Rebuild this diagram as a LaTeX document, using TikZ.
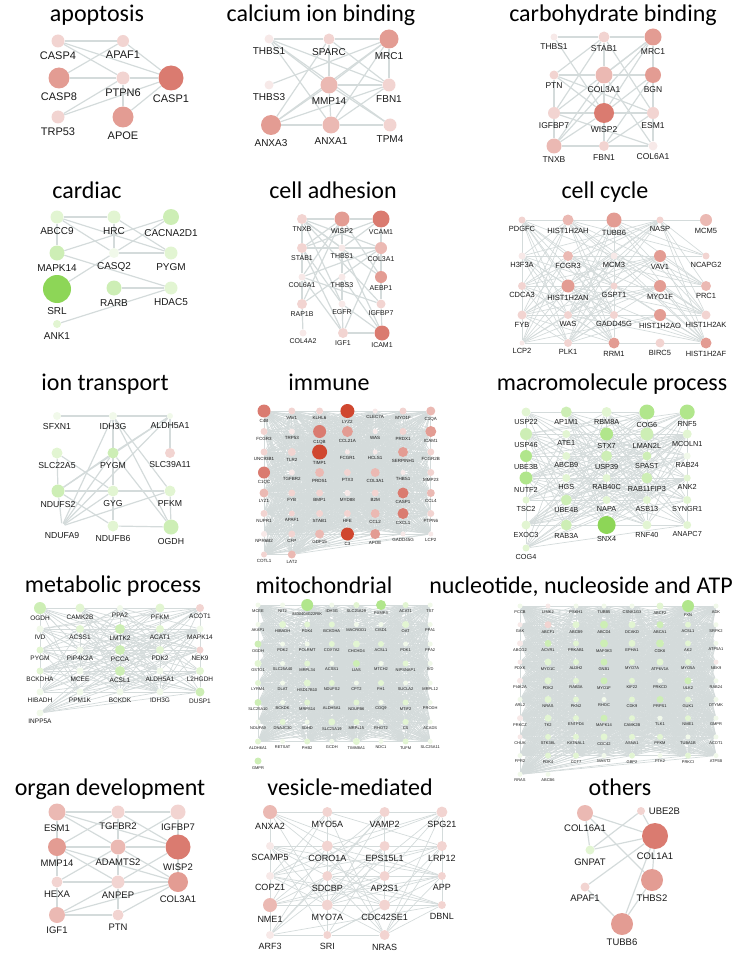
\documentclass[tikz,border=0pt]{standalone}
\usepackage{fontspec}
\setsansfont{Liberation Sans}
\newfontfamily\titlefont{Carlito}
\usetikzlibrary{positioning}

\definecolor{r0}{HTML}{F7E9E8}
\definecolor{r1}{HTML}{F2D4D1}
\definecolor{r2}{HTML}{EBB9B3}
\definecolor{r3}{HTML}{E39C93}
\definecolor{r4}{HTML}{DA7B70}
\definecolor{r5}{HTML}{D0472F}
\definecolor{g0}{HTML}{F1F9EA}
\definecolor{g1}{HTML}{E2F5D2}
\definecolor{g2}{HTML}{CDEEB5}
\definecolor{g3}{HTML}{B1E68C}
\definecolor{g4}{HTML}{8DD657}
\definecolor{edgegray}{HTML}{D4DBDB}

\pgfdeclarelayer{bg}
\pgfsetlayers{bg,main}

\tikzset{
  gn/.style={circle, inner sep=0pt, minimum size=#1},
  edge/.style={draw=edgegray, line width=1.2pt},
  meshedge/.style={draw=edgegray, line width=0.7pt},
  lbl/.style={inner sep=1pt, text=black!90},
  ttl/.style={anchor=base, inner sep=0pt, font=\titlefont\fontsize{24}{24}\selectfont},
}

% one gene: name, x, y, size, colour, text
\newcommand\gene[6]{\node[gn=#4, fill=#5, label={[lbl]below:#6}] (#1) at (#2,#3) {};}
% dense web: prefix, last index, modulus, threshold
\newcommand\genemesh[4]{%
  \foreach \i in {0,...,#2}{\foreach \j in {0,...,#2}{%
    \ifnum\i<\j
      \pgfmathtruncatemacro\k{mod(\i*7+\j*11+\i*\j,#3)}%
      \ifnum\k<#4 \draw[meshedge] (#1\i) -- (#1\j);\fi
    \fi}}}

\begin{document}
\begin{tikzpicture}[x=1pt, y=-1pt]
\useasboundingbox (0,0) rectangle (750,960);

% apoptosis
\begin{scope}[lbl/.append style={font=\sffamily\fontsize{11}{11}\selectfont, label distance=3pt}]
\node[ttl] (tApo) at (97,22) {apoptosis};
\gene{aC4}{58}{41}{13}{r1}{CASP4}
\gene{aAP}{123}{41}{12}{r1}{APAF1}
\gene{aC8}{59}{78}{21}{r3}{CASP8}
\gene{aPT}{123}{78}{13}{r1}{PTPN6}
\gene{aC1}{171}{78}{25}{r4}{CASP1}
\gene{aTR}{58}{117}{13}{r1}{TRP53}
\gene{aAE}{123}{117}{21}{r3}{APOE}
\begin{pgfonlayer}{bg}
\foreach \a/\b in {aC4/aAP, aC4/aPT, aC4/aC1, aAP/aC8, aAP/aC1, aC8/aPT,
  aPT/aC1, aTR/aPT, aTR/aC1, aAE/aPT, aAE/aC1}
  \draw[edge] (\a) -- (\b);
\end{pgfonlayer}
\end{scope}

% calcium ion binding
\begin{scope}[lbl/.append style={font=\sffamily\fontsize{10}{10}\selectfont, label distance=3pt}]
\node[ttl] (tCal) at (321,22) {calcium ion binding};
\gene{cT1}{269}{39}{9}{r0}{THBS1}
\gene{cSP}{329}{39}{11}{r1}{SPARC}
\gene{cMR}{389}{39}{19}{r3}{MRC1}
\gene{cT3}{269}{85}{9}{r0}{THBS3}
\gene{cMM}{329}{85}{17}{r2}{MMP14}
\gene{cFB}{389}{85}{13}{r1}{FBN1}
\gene{cA3}{271}{125}{20}{r3}{ANXA3}
\gene{cA1}{331}{125}{17}{r2}{ANXA1}
\gene{cTP}{390}{125}{13}{r1}{TPM4}
\begin{pgfonlayer}{bg}
\foreach \a/\b in {cT1/cSP, cSP/cMR, cT1/cMM, cT1/cFB, cT1/cTP, cT1/cA1,
  cSP/cFB, cSP/cMM, cSP/cA3, cMR/cFB, cMR/cMM, cMR/cA3, cMR/cA1, cT3/cMR,
  cMM/cFB, cMM/cTP, cMM/cA3, cMM/cA1, cA3/cA1, cA1/cTP, cA3/cFB, cA1/cFB}
  \draw[edge] (\a) -- (\b);
\end{pgfonlayer}
\end{scope}

% carbohydrate binding
\begin{scope}[lbl/.append style={font=\sffamily\fontsize{8.5}{8.5}\selectfont, label distance=2pt}]
\node[ttl] (tCar) at (613,22) {carbohydrate binding};
\gene{hT1}{554}{37}{7}{r0}{THBS1}
\gene{hST}{604}{37}{11}{r1}{STAB1}
\gene{hMR}{653}{37}{17}{r3}{MRC1}
\gene{hPT}{554}{75}{9}{r1}{PTN}
\gene{hC3}{604}{75}{17}{r2}{COL3A1}
\gene{hBG}{653}{75}{16}{r3}{BGN}
\gene{hIG}{554}{113}{12}{r1}{IGFBP7}
\gene{hWI}{604}{113}{20}{r4}{WISP2}
\gene{hES}{653}{113}{12}{r1}{ESM1}
\gene{hTN}{554}{146}{15}{r2}{TNXB}
\gene{hFB}{604}{146}{10}{r1}{FBN1}
\gene{hC6}{653}{146}{9}{r0}{COL6A1}
\begin{pgfonlayer}{bg}
\foreach \a/\b in {hT1/hST, hST/hMR, hT1/hWI, hST/hPT, hST/hIG, hST/hES,
  hST/hC3, hMR/hC3, hMR/hBG, hMR/hWI, hMR/hIG, hMR/hTN, hPT/hC3, hPT/hIG,
  hPT/hWI, hPT/hES, hC3/hBG, hC3/hWI, hC3/hTN, hC3/hC6, hBG/hWI, hBG/hFB,
  hBG/hES, hIG/hWI, hIG/hTN, hWI/hES, hWI/hTN, hWI/hFB, hES/hFB, hES/hC6,
  hTN/hFB, hFB/hC6, hIG/hC6}
  \draw[edge] (\a) -- (\b);
\end{pgfonlayer}
\end{scope}

% cardiac
\begin{scope}[lbl/.append style={font=\sffamily\fontsize{10}{10}\selectfont, label distance=3pt}]
\node[ttl] (tCrd) at (87,198) {cardiac};
\gene{dAB}{57}{217}{13}{g1}{ABCC9}
\gene{dHR}{114}{217}{13}{g1}{HRC}
\gene{dCA}{171}{217}{16}{g2}{CACNA2D1}
\gene{dMA}{57}{253}{15}{g2}{MAPK14}
\gene{dCQ}{114}{253}{10}{g0}{CASQ2}
\gene{dPY}{171}{253}{13}{g1}{PYGM}
\gene{dSR}{57}{289}{28}{g4}{SRL}
\gene{dRA}{114}{288}{15}{g2}{RARB}
\gene{dHD}{171}{288}{13}{g1}{HDAC5}
\gene{dAN}{57}{324}{8}{g1}{ANK1}
\begin{pgfonlayer}{bg}
\foreach \a/\b in {dAB/dHR, dAB/dMA, dAB/dCQ, dAB/dPY, dHR/dCQ, dHR/dPY,
  dCA/dMA, dCA/dCQ, dCQ/dPY, dMA/dHD, dSR/dCQ, dRA/dHD, dHD/dAN}
  \draw[edge] (\a) -- (\b);
\end{pgfonlayer}
\end{scope}

% cell adhesion
\begin{scope}[lbl/.append style={font=\sffamily\fontsize{7}{7}\selectfont, label distance=1pt}]
\node[ttl] (tAdh) at (333,198) {cell adhesion};
\gene{eTN}{302}{219}{10}{r1}{TNXB}
\gene{eWI}{342}{219}{15}{r3}{WISP2}
\gene{eVC}{381}{219}{17}{r4}{VCAM1}
\gene{eST}{302}{248}{10}{r1}{STAB1}
\gene{eT1}{342}{248}{7}{r0}{THBS1}
\gene{eC3}{381}{248}{12}{r2}{COL3A1}
\gene{eC6}{302}{277}{7}{r0}{COL6A1}
\gene{eT3}{342}{277}{7}{r0}{THBS3}
\gene{eAE}{381}{277}{12}{r3}{AEBP1}
\gene{eRA}{302}{304}{10}{r1}{RAP1B}
\gene{eEG}{342}{304}{7}{r0}{EGFR}
\gene{eIG}{381}{304}{9}{r1}{IGFBP7}
\gene{eC4}{303}{333}{7}{r0}{COL4A2}
\gene{eI1}{343}{333}{10}{r1}{IGF1}
\gene{eIC}{382}{333}{15}{r4}{ICAM1}
\begin{pgfonlayer}{bg}
\foreach \a/\b in {eTN/eWI, eWI/eVC, eTN/eST, eST/eC6, eC6/eRA, eRA/eC4,
  eT1/eT3, eT3/eEG, eEG/eI1, eVC/eC3, eC3/eAE, eAE/eIG, eIG/eIC, eI1/eIC,
  eTN/eT1, eTN/eC3, eTN/eAE, eTN/eIG, eTN/eEG, eWI/eST, eWI/eC6, eWI/eRA,
  eWI/eAE, eVC/eT1, eVC/eST, eVC/eIG, eST/eC3, eST/eEG, eC6/eC3, eC6/eIG,
  eT1/eIC, eT3/eIC, eRA/eC3, eEG/eIC, eI1/eC6, eI1/eC3, eI1/eST, eWI/eT1}
  \draw[edge] (\a) -- (\b);
\end{pgfonlayer}
\end{scope}

% cell cycle
\begin{scope}[lbl/.append style={font=\sffamily\fontsize{7.5}{7.5}\selectfont, label distance=1.3pt}]
\node[ttl] (tCyc) at (605,198) {cell cycle};
\foreach \gl/\gs/\gc [count=\n from 0] in {PDGFC/7/r1, HIST1H2AH/11/r2,
  TUBB6/15/r3, NASP/7/r1, MCM5/12/r2, H3F3A/7/r0, FCGR3/10/r2, MCM3/7/r0,
  VAV1/12/r3, NCAPG2/7/r1, CDCA3/8/r1, HIST1H2AN/13/r3, GSPT1/7/r1,
  MYO1F/12/r3, PRC1/10/r2, FYB/9/r1, WAS/8/r1, GADD45G/8/r1, HIST1H2AO/12/r3,
  HIST1H2AK/9/r1, LCP2/5/r0, PLK1/8/r1, RRM1/11/r3, BIRC5/9/r1,
  HIST1H2AF/11/r3}{
  \pgfmathtruncatemacro\rr{\n/5}
  \pgfmathsetmacro\xx{522+46*mod(\n,5)}
  \pgfmathsetmacro\yy{{220,256,286,315,343}[\rr]}
  \node[gn=\gs, fill=\gc, label={[lbl]below:\gl}] (cy\n) at (\xx,\yy) {};
}
\begin{pgfonlayer}{bg}
\genemesh{cy}{24}{5}{3}
\end{pgfonlayer}
\end{scope}

% ion transport
\begin{scope}[lbl/.append style={font=\sffamily\fontsize{8.7}{8.7}\selectfont, label distance=2.5pt}]
\node[ttl] (tIon) at (105,390) {ion transport};
\gene{iSF}{57}{416}{8}{g0}{SFXN1}
\gene{iID}{113}{416}{8}{g0}{IDH3G}
\gene{iAL}{170}{416}{6}{g0}{ALDH5A1}
\gene{iSL}{57}{453}{11}{g1}{SLC22A5}
\gene{iPY}{113}{453}{11}{g2}{PYGM}
\gene{iS3}{170}{453}{10}{r1}{SLC39A11}
\gene{iNS}{58}{491}{13}{g2}{NDUFS2}
\gene{iGY}{113}{491}{11}{g1}{GYG}
\gene{iPF}{170}{491}{11}{g1}{PFKM}
\gene{iNA}{62}{526}{5}{white}{NDUFA9}
\gene{iNB}{113}{526}{11}{g1}{NDUFB6}
\gene{iOG}{171}{527}{15}{g2}{OGDH}
\begin{pgfonlayer}{bg}
\foreach \a/\b in {iSF/iID, iID/iAL, iID/iGY, iID/iPF, iID/iOG, iID/iNA,
  iAL/iS3, iAL/iPY, iAL/iNS, iAL/iNA, iSL/iNS, iSL/iGY, iPY/iGY, iPY/iNS,
  iPY/iNA, iPY/iOG, iNS/iGY, iNS/iNB, iNS/iPF, iGY/iPF, iGY/iNB, iGY/iNA,
  iPF/iOG, iNB/iOG, iNA/iPF, iNS/iNA}
  \draw[edge] (\a) -- (\b);
\end{pgfonlayer}
\end{scope}

% immune
\begin{scope}[lbl/.append style={font=\sffamily\fontsize{4.5}{4.5}\selectfont, label distance=0.8pt}]
\node[ttl] (tImm) at (329,390) {immune};
\foreach \gl/\gs/\gc [count=\n from 0] in {C4B/13/r4, VAV1/7/r1, KLHL6/7/r1,
  LYZ2/14/r5, CLEC7A/5/r0, MYO1F/7/r1, C1QA/9/r2,
  FCGR3/7/r1, TRP53/6/r0, C1QB/13/r4, CCL21A/11/r3, WAS/5/r0, PRDX1/7/r1, ICAM1/11/r3,
  UNC93B1/7/r1, TLR2/8/r1, TIMP1/15/r5, FCGR1/5/r0, HCLS1/5/r0, SERPINH1/10/r3, FCGR2B/7/r1,
  C1QC/12/r4, TGFBR2/6/r0, PRDS1/9/r2, PTX3/7/r1, COL3A1/9/r2, THBS1/5/r0, MMP23/7/r1,
  LYZ1/9/r2, FYB/7/r1, BMP1/7/r1, MYD88/6/r0, B2M/7/r1, CASP1/11/r4, CCL4/8/r2,
  NUPR1/7/r1, APAF1/6/r1, STAB1/7/r1, HFE/7/r1, CCL2/9/r2, CXCL1/11/r4, PTPN6/7/r1,
  NPR6B2/6/r0, CFP/7/r1, GDF15/9/r2, C3/13/r5, APOE/10/r3, GADD45G/5/r0, LCP2/5/r0,
  COTL1/6/r1, LAT2/8/r2}{
  \pgfmathtruncatemacro\rr{\n/7}
  \pgfmathsetmacro\xx{264+27.8*mod(\n,7)}
  \pgfmathsetmacro\yy{411+20.5*\rr}
  \node[gn=\gs, fill=\gc, label={[lbl]below:\gl}] (im\n) at (\xx,\yy) {};
}
\begin{pgfonlayer}{bg}
\genemesh{im}{50}{5}{4}
\end{pgfonlayer}
\end{scope}

% macromolecule process
\begin{scope}[lbl/.append style={font=\sffamily\fontsize{7.3}{7.3}\selectfont, label distance=1pt}]
\node[ttl] (tMac) at (612,390) {macromolecule process};
\foreach \gl/\gs/\gc [count=\n from 0] in {USP22/9/g1, AP1M1/11/g2,
  RBM8A/10/g1, COG6/15/g3, RNF5/15/g3, USP46/12/g2, ATE1/8/g1, STX7/13/g3,
  LMAN2L/13/g2, MCOLN1/9/g1, UBE3B/12/g3, ABCB9/8/g1, USP39/11/g2,
  SPAST/9/g2, RAB24/7/g0, NUTF2/13/g3, HGS/8/g1, RAB40C/8/g1,
  RAB11FIP3/11/g2, ANK2/7/g1, TSC2/7/g1, UBE4B/11/g2, NAPA/8/g1, ASB13/8/g1,
  SYNGR1/8/g1, EXOC3/9/g1, RAB3A/11/g2, SNX4/18/g4, RNF40/9/g1,
  ANAPC7/8/g1, COG4/7/g1}{
  \pgfmathtruncatemacro\rr{\n/5}
  \pgfmathsetmacro\xx{526+40.3*mod(\n,5)}
  \pgfmathsetmacro\yy{{412,434,456,478,500,525,548}[\rr]}
  \node[gn=\gs, fill=\gc, label={[lbl]below:\gl}] (mc\n) at (\xx,\yy) {};
}
\begin{pgfonlayer}{bg}
\genemesh{mc}{30}{10}{4}
\end{pgfonlayer}
\end{scope}

% metabolic process
\begin{scope}[lbl/.append style={font=\sffamily\fontsize{6.5}{6.5}\selectfont, label distance=1pt}]
\node[ttl] (tMet) at (113,592) {metabolic process};
\foreach \gl/\gs/\gc [count=\n from 0] in {OGDH/12/g2, CAMK2B/9/g1,
  PPA2/6/g0, PFKM/9/g1, ACOT1/8/r1, IVD/7/g0, ACSS1/8/g1, LMTK2/10/g2,
  ACAT1/8/g1, MAPK14/7/g0, PYGM/7/g1, PIP4K2A/7/g0, PCCA/10/g2, PDK2/8/g1,
  NEK9/7/r1, BCKDHA/7/g1, MCEE/7/g0, ACSL1/10/g2, ALDH5A1/7/g0,
  L2HGDH/8/g1, HIBADH/7/g0, PPM1K/7/g0, BCKDK/7/g0, IDH3G/7/g0,
  DUSP1/9/g2, INPP5A/7/g0}{
  \pgfmathtruncatemacro\rr{\n/5}
  \pgfmathsetmacro\xx{40+40*mod(\n,5)}
  \pgfmathsetmacro\yy{608+21*\rr}
  \node[gn=\gs, fill=\gc, label={[lbl]below:\gl}] (mb\n) at (\xx,\yy) {};
}
\begin{pgfonlayer}{bg}
\genemesh{mb}{25}{10}{5}
\end{pgfonlayer}
\end{scope}

% mitochondrial
\begin{scope}[lbl/.append style={font=\sffamily\fontsize{4}{4}\selectfont, label distance=0.6pt}]
\node[ttl] (tMit) at (324,593) {mitochondrial};
\foreach \gl/\gs/\gc [count=\n from 0] in {MCEE/5/g0, NIT2/5/g0,
  8430408G22RIK/12/g3, IDH3G/5/g0, SLC25A29/6/g1, PXMP3/10/g3, ACAT1/6/g1, TST/5/g0,
  AKAP1/5/g0, HIBADH/7/g1, PDK4/6/g1, BCKDHA/6/g1, MACROD1/5/g0, CISD1/5/g0, OAT/7/g1, PPA1/5/g0,
  OGDH/7/g2, PDK2/5/g0, POLRMT/5/g0, COX7A2/6/g1, CHCHD4/7/g1, ACSL1/6/g1, PDK1/5/g0, PPA2/5/g0,
  GSTO1/7/g1, SLC25A40/5/g0, MRPL34/6/g1, ACSS1/5/g0, LIAS/7/g2, MTCH2/5/g0, NIPSNAP1/6/g1, IVD/5/g0,
  LYRM4/6/g1, DLAT/5/g0, HSD17B10/7/g1, NDUFS2/6/g1, CPT2/5/g0, FH1/6/g1, SUCLA2/5/g0, MRPL12/5/g0,
  SLC25A10/7/g2, BCKDK/5/g0, MRPS14/6/g1, ALDH5A1/5/g0, NDUFB6/6/g1, COQ9/5/g0, MTIF2/6/g1, PRODH/5/g0,
  NDUFA9/5/g0, DNAJC30/6/g1, SDHD/5/g0, SLC25A19/7/g1, MRPL15/6/g1, RHOT2/5/g0, CS/6/g1, ACADS/5/g0,
  ALDH6A1/6/g1, RETSAT/5/g0, PHB2/6/g1, GCDH/5/g0, TIMM8A1/7/g1, NDC1/5/g0, TUFM/6/g1, SLC25A11/5/g0,
  GMPR/7/g2}{
  \pgfmathtruncatemacro\rr{\n/8}
  \pgfmathsetmacro\xx{258+24.6*mod(\n,8)}
  \pgfmathsetmacro\yy{605+19.5*\rr}
  \node[gn=\gs, fill=\gc, label={[lbl]below:\gl}] (mt\n) at (\xx,\yy) {};
}
\begin{pgfonlayer}{bg}
\genemesh{mt}{63}{4}{3}
\end{pgfonlayer}
\end{scope}

% nucleotide, nucleoside and ATP
\begin{scope}[lbl/.append style={font=\sffamily\fontsize{4}{4}\selectfont, label distance=0.6pt}]
\node[ttl] (tNuc) at (581,593) {nucleotide, nucleoside and ATP};
\foreach \gl/\gs/\gc [count=\n from 0] in {PCCB/5/g0, LIMK2/5/r0,
  PSKH1/5/g0, TUBB5/5/g0, CSNK1G3/5/g0, ABCF2/7/g1, FXN/12/g3, ADK/5/g0,
  GAK/5/r0, ABCF1/7/r1, ABCB9/7/g1, ABCD4/8/g2, DCAKD/7/g1, ABCA1/7/g2, ACSL1/6/g1, SRPK2/5/g0,
  ABCG2/6/r0, ACVR1/7/g2, PRKAB1/6/g1, MAP3K3/8/g2, EPHA1/7/g1, CDK6/8/g2, AK2/6/g1, ATP5A1/5/g0,
  PDXK/5/r0, MYO1C/7/g1, ALDH2/6/g1, GNB1/7/g2, MYO7A/6/g1, ATP6V1A/7/g1, MYO5A/6/g1, NEK9/5/r0,
  PI4K2A/6/r0, PDK2/7/g1, RAB3A/6/g1, MYO1F/7/g2, KIF22/6/g1, PRKCD/5/g0, ULK2/7/g2, RAB24/5/g0,
  ARL2/5/g0, NRAS/7/g1, PKN2/6/g1, RHOC/5/g0, CDK9/6/g1, PRPS1/7/g2, GUK1/6/g1, DTYMK/5/g0,
  PRKCZ/6/r0, TK2/7/g1, ENTPD4/6/g1, MAPK14/7/g2, CAMK2B/6/g1, TLK1/5/g0, NME1/6/g1, GMPR/5/g0,
  CHUK/5/r0, STK38L/6/g1, KATNAL1/6/g1, CDC42/7/g1, ASNA1/6/g1, PFKM/6/g1, TUBA1B/5/g0, ACOT1/5/g0,
  FPR2/5/g0, PDK4/6/g1, CCT7/6/g1, MAST2/5/g0, GBP2/6/g1, PTK2/5/g0, PRKCI/6/g1, ATP5B/5/g0,
  RRAS/5/g0, ABCB6/5/g0}{
  \pgfmathtruncatemacro\rr{\n/8}
  \pgfmathsetmacro\xx{520+28*mod(\n,8)}
  \pgfmathsetmacro\yy{606+18.7*\rr}
  \node[gn=\gs, fill=\gc, label={[lbl]below:\gl}] (nu\n) at (\xx,\yy) {};
}
\begin{pgfonlayer}{bg}
\genemesh{nu}{73}{4}{3}
\end{pgfonlayer}
\end{scope}

% organ development
\begin{scope}[lbl/.append style={font=\sffamily\fontsize{9.5}{9.5}\selectfont, label distance=2.5pt}]
\node[ttl] (tOrg) at (110,795) {organ development};
\gene{oES}{57}{812}{17}{r2}{ESM1}
\gene{oTG}{118}{812}{13}{r1}{TGFBR2}
\gene{oIG}{178}{812}{15}{r1}{IGFBP7}
\gene{oMM}{57}{847}{18}{r3}{MMP14}
\gene{oAD}{118}{847}{15}{r2}{ADAMTS2}
\gene{oWI}{178}{847}{25}{r4}{WISP2}
\gene{oHE}{57}{882}{11}{r1}{HEXA}
\gene{oAN}{118}{882}{13}{r1}{ANPEP}
\gene{oC3}{178}{882}{20}{r3}{COL3A1}
\gene{oI1}{57}{915}{16}{r2}{IGF1}
\gene{oPT}{118}{915}{11}{r1}{PTN}
\begin{pgfonlayer}{bg}
\foreach \a/\b in {oES/oTG, oTG/oIG, oES/oMM, oTG/oAD, oIG/oWI, oES/oAD,
  oES/oWI, oTG/oWI, oTG/oMM, oIG/oAD, oIG/oC3, oMM/oAD, oAD/oWI, oMM/oHE,
  oMM/oAN, oMM/oC3, oAD/oAN, oAD/oC3, oAD/oHE, oWI/oAN, oWI/oC3, oHE/oAN,
  oAN/oC3, oHE/oI1, oAN/oI1, oAN/oPT, oC3/oPT, oC3/oI1, oI1/oPT, oHE/oC3}
  \draw[edge] (\a) -- (\b);
\end{pgfonlayer}
\end{scope}

% vesicle-mediated
\begin{scope}[lbl/.append style={font=\sffamily\fontsize{9}{9}\selectfont, label distance=2.5pt}]
\node[ttl] (tVes) at (350,795) {vesicle-mediated};
\foreach \gl/\gs/\gc [count=\n from 0] in {ANXA2/14/r2, MYO5A/10/r1,
  VAMP2/10/r1, SPG21/11/r1, SCAMP5/8/r0, CORO1A/11/r1, EPS15L1/10/r1,
  LRP12/10/r1, COPZ1/8/r0, SDCBP/10/r1, AP2S1/10/r1, APP/8/r1, NME1/14/r2,
  MYO7A/11/r1, CDC42SE1/11/r1, DBNL/8/r1, ARF3/8/r0, SRI/8/r1, NRAS/10/r1}{
  \pgfmathtruncatemacro\rr{\n/4}
  \pgfmathsetmacro\xx{270+57.3*mod(\n,4)}
  \pgfmathsetmacro\yy{{812,846,876,905,935}[\rr]}
  \node[gn=\gs, fill=\gc, label={[lbl]below:\gl}] (ve\n) at (\xx,\yy) {};
}
\begin{pgfonlayer}{bg}
\genemesh{ve}{18}{10}{5}
\end{pgfonlayer}
\end{scope}

% others
\begin{scope}[lbl/.append style={font=\sffamily\fontsize{9.5}{9.5}\selectfont, label distance=2.5pt}]
\node[ttl] (tOth) at (620,795) {others};
\gene{xCL}{585}{813}{16}{r2}{COL16A1}
\node[gn=8, fill=r1, label={[lbl]right:UBE2B}] (xUB) at (641,811) {};
\gene{xGN}{590}{850}{9}{g1}{GNPAT}
\gene{xC1}{655}{836}{26}{r4}{COL1A1}
\gene{xAP}{585}{887}{9}{r1}{APAF1}
\gene{xTH}{652}{880}{22}{r3}{THBS2}
\gene{xTU}{622}{924}{22}{r3}{TUBB6}
\begin{pgfonlayer}{bg}
\foreach \a/\b in {xCL/xC1, xCL/xTH, xCL/xGN, xUB/xGN, xUB/xC1, xC1/xTH,
  xC1/xAP, xTH/xTU, xAP/xTU, xC1/xTU, xGN/xC1}
  \draw[edge] (\a) -- (\b);
\end{pgfonlayer}
\end{scope}

\end{tikzpicture}
\end{document}
